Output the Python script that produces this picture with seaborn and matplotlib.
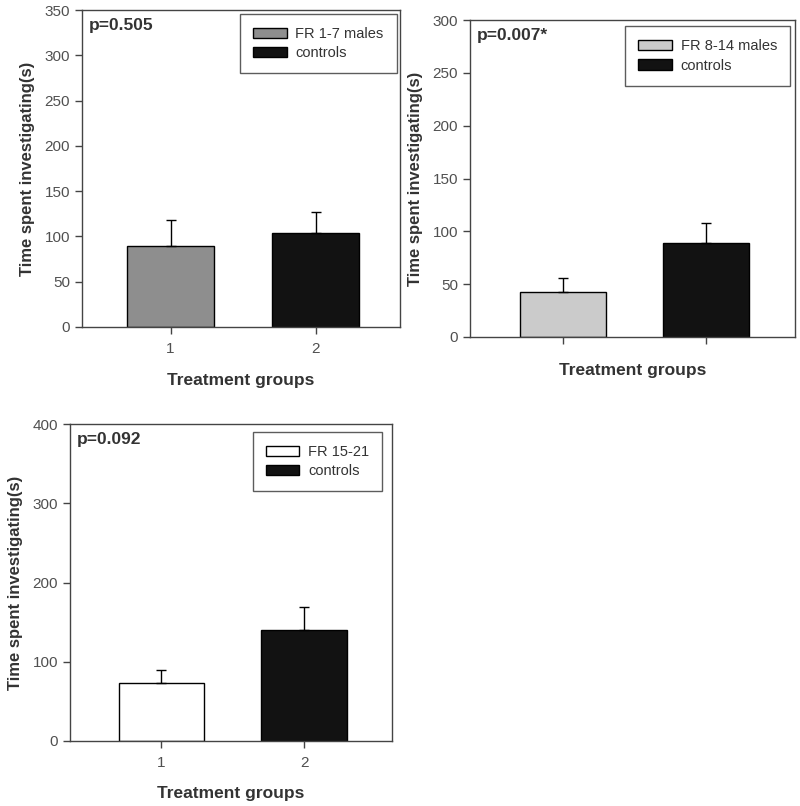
import matplotlib
matplotlib.use("Agg")
import matplotlib.pyplot as plt
from matplotlib.patches import Patch
import seaborn as sns
import pandas as pd

# values
groups = ["1", "2"]
means_1_7 = [89.5, 104]
errs_1_7 = [28.5, 22.5]
means_8_14 = [42.5, 89]
errs_8_14 = [13, 19]
means_15_21 = [73.5, 140]
errs_15_21 = [16, 29.5]

legend_1_7 = ["FR 1-7 males", "controls"]
legend_8_14 = ["FR 8-14 males", "controls"]
legend_15_21 = ["FR 15-21", "controls"]

p_labels = ["p=0.505", "p=0.007*", "p=0.092"]
ymax = [350, 300, 400]
ystep = [50, 50, 100]
bar_colors = [["#8e8e8e", "#121212"], ["#cbcbcb", "#121212"], ["#ffffff", "#121212"]]

sns.set_style("white")
plt.rcParams["font.family"] = ["Liberation Sans", "DejaVu Sans"]
TXT = "#333333"

fig = plt.figure(figsize=(8.0, 8.06), dpi=100)


def px_axes(left, top, right, bottom):
    W, H = 800, 806
    return fig.add_axes([left / W, 1 - bottom / H, (right - left) / W, (bottom - top) / H])


def draw_panel(ax, means, errs, labels, colors, ptext, top, step, xlim, show_ticks, legend_anchor, xpad):
    df = pd.DataFrame({"group": groups, "mean": means})
    sns.barplot(data=df, x="group", y="mean", hue="group", palette=colors,
                width=0.6, edgecolor="black", linewidth=1.0, legend=False,
                errorbar=None, ax=ax)
    ax.errorbar(x=[0, 1], y=means, yerr=[[0, 0], errs], fmt="none",
                ecolor="black", elinewidth=1.0, capsize=3.6, capthick=1.0, zorder=1)
    ax.set_ylim(0, top)
    ax.set_xlim(*xlim)
    ax.set_yticks(range(0, top + 1, step))
    for s in ax.spines.values():
        s.set_visible(True)
        s.set_color("#444444")
        s.set_linewidth(1.0)
    ax.tick_params(axis="both", direction="out", length=5, width=1, color="#444444",
                   labelsize=11, labelcolor="#505050", left=True, bottom=True)
    ax.tick_params(axis="x", pad=6)
    if not show_ticks:
        ax.set_xticklabels([])
    ax.set_xlabel("Treatment groups", fontsize=12.5, fontweight="bold", color=TXT, labelpad=xpad)
    ax.set_ylabel("Time spent investigating(s)", fontsize=12, fontweight="bold", color=TXT, labelpad=7)
    ax.text(0.02, 0.975, ptext, transform=ax.transAxes, fontsize=12.5,
            fontweight="bold", color=TXT, va="top", ha="left")
    handles = [Patch(facecolor=c, edgecolor="black", linewidth=1.0) for c in colors]
    leg = ax.legend(handles, labels, loc="upper right", bbox_to_anchor=legend_anchor,
                    fontsize=10.5, frameon=True, fancybox=False, edgecolor="#333333",
                    handlelength=2.3, handleheight=0.7, borderpad=0.9, labelspacing=0.35,
                    handletextpad=0.6, borderaxespad=0)
    leg.get_frame().set_linewidth(1.0)
    for t in leg.get_texts():
        t.set_color(TXT)


ax1 = px_axes(82, 10, 400, 327)
draw_panel(ax1, means_1_7, errs_1_7, legend_1_7, bar_colors[0], p_labels[0],
           ymax[0], ystep[0], (-0.61, 1.58), True, (0.99, 0.987), 12)

ax2 = px_axes(470, 20, 795, 337)
draw_panel(ax2, means_8_14, errs_8_14, legend_8_14, bar_colors[1], p_labels[1],
           ymax[1], ystep[1], (-0.65, 1.62), False, (0.985, 0.98), 8)

ax3 = px_axes(70, 424, 392, 741)
draw_panel(ax3, means_15_21, errs_15_21, legend_15_21, bar_colors[2], p_labels[2],
           ymax[2], ystep[2], (-0.64, 1.615), True, (0.97, 0.975), 11)

fig.savefig("out.png", dpi=100, facecolor="white")
